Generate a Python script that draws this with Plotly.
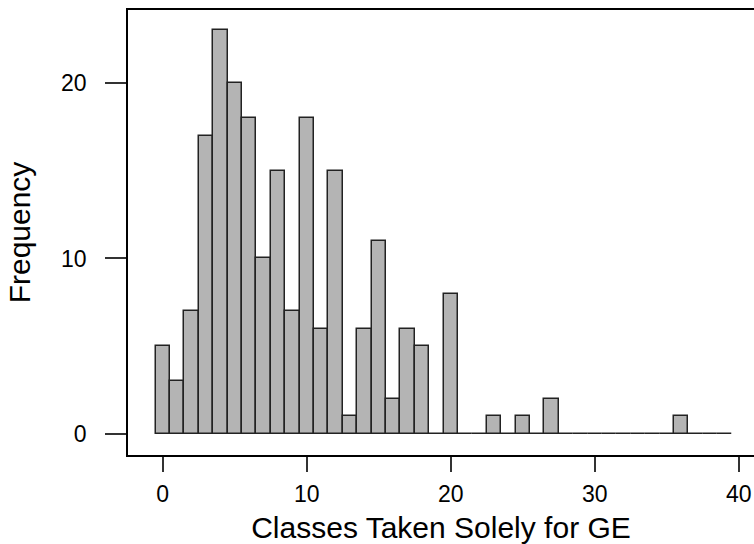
import plotly.graph_objects as go

classes = list(range(40))
freq = [5, 3, 7, 17, 23, 20, 18, 10, 15, 7,
        18, 6, 15, 1, 6, 11, 2, 6, 5, 0,
        8, 0, 0, 1, 0, 1, 0, 2, 0, 0,
        0, 0, 0, 0, 0, 0, 1, 0, 0, 0]
x_ticks = [0, 10, 20, 30, 40]
y_ticks = [0, 10, 20]

FONT = "Arial, 'Liberation Sans', sans-serif"

fig = go.Figure()
fig.add_trace(go.Bar(
    x=classes, y=freq, width=1.0,
    marker=dict(color="#b4b4b4", line=dict(color="#222222", width=1.5)),
    showlegend=False, hoverinfo="skip",
))

fig.update_layout(
    width=754, height=544,
    margin=dict(l=128, r=0, t=10, b=89),
    paper_bgcolor="white", plot_bgcolor="white",
    font=dict(family=FONT, color="black", size=23),
    bargap=0,
    xaxis=dict(
        range=[-2.41, 41.06],
        tickvals=x_ticks, ticktext=[str(v) for v in x_ticks],
        showgrid=False, zeroline=False,
        showline=True, linecolor="black", linewidth=1.5, mirror=True,
        ticks="outside", ticklen=15, tickwidth=1.5, tickcolor="#333",
        tickfont=dict(size=23, family=FONT),
        ticklabelstandoff=3,
        title=dict(text="Classes Taken Solely for GE", font=dict(size=30, family=FONT), standoff=14),
    ),
    yaxis=dict(
        range=[-1.2, 24.16],
        tickvals=y_ticks, ticktext=[str(v) for v in y_ticks],
        showgrid=False, zeroline=False,
        showline=True, linecolor="black", linewidth=1.5, mirror=False,
        ticks="outside", ticklen=21, tickwidth=1.5, tickcolor="#333",
        tickfont=dict(size=23, family=FONT),
        ticklabelstandoff=14,
        title=dict(text="Frequency", font=dict(size=30, family=FONT), standoff=22),
    ),
)

fig.write_html(
    "out.html",
    config={"displayModeBar": False},
    post_script="document.body.style.margin='0';document.body.style.overflow='hidden';",
)
